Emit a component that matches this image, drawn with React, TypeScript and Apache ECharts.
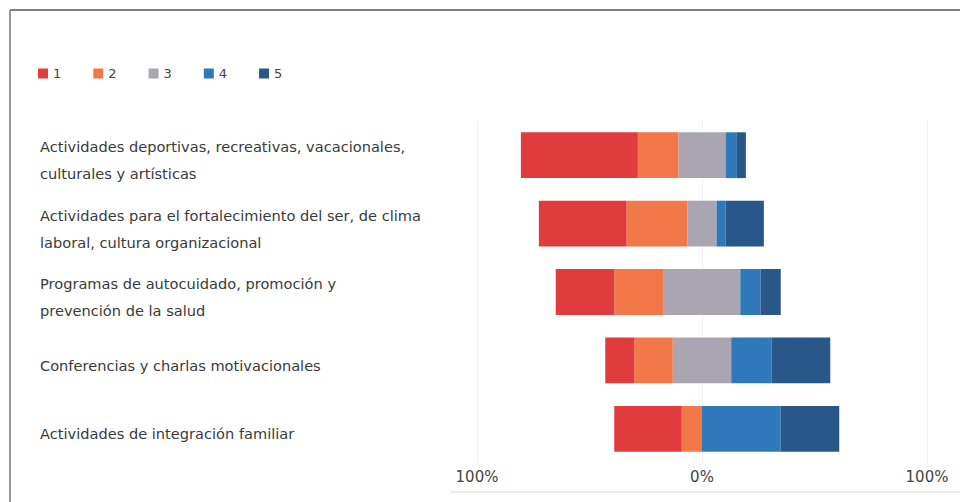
import React, { useEffect, useRef } from "react";
import * as echarts from "echarts";

const categories = [
  "Actividades deportivas, recreativas, vacacionales,\nculturales y artísticas",
  "Actividades para el fortalecimiento del ser, de clima\nlaboral, cultura organizacional",
  "Programas de autocuidado, promoción y\nprevención de la salud",
  "Conferencias y charlas motivacionales",
  "Actividades de integración familiar",
];
const legendNames = ["1", "2", "3", "4", "5"];
const p1 = [52, 39, 26, 13, 30];
const p2 = [18, 27, 22, 17, 9];
const p3 = [21, 13, 34, 26, 0];
const p4 = [5, 4, 9, 18, 35];
const p5 = [4, 17, 9, 26, 26];
const tickValues = [-100, 0, 100];

const colors = ["#e03c3e", "#f2784a", "#a9a6b2", "#2f78b9", "#2a5789"];
const FONT = "DejaVu Sans";

export default function App() {
  const ref = useRef<HTMLDivElement>(null);
  useEffect(() => {
    if (!ref.current) return;
    const chart = echarts.init(ref.current, null, { renderer: "svg" });
    const bar = (name: string, data: number[], color: string) => ({
      name,
      type: "bar",
      stack: "likert",
      data,
      barCategoryGap: "33%",
      itemStyle: { color },
      emphasis: { disabled: true },
    });
    chart.setOption({
      animation: false,
      backgroundColor: "#ffffff",
      textStyle: { fontFamily: FONT },
      legend: {
        data: legendNames,
        left: 33,
        top: 62,
        icon: "rect",
        itemWidth: 10,
        itemHeight: 10,
        itemGap: 32,
        textStyle: { color: "#444", fontSize: 13, fontFamily: FONT },
      },
      grid: [
        { left: 477, right: 33, top: 121, bottom: 39 },
        { left: 477, right: 33, top: 126, bottom: 34 },
      ],
      xAxis: [
        {
          type: "value",
          min: tickValues[0],
          max: tickValues[tickValues.length - 1],
          interval: 100,
          axisLine: { show: false },
          axisTick: { show: false },
          splitLine: { show: true, lineStyle: { color: "#f0f0f0", width: 1 } },
          axisLabel: {
            color: "#444",
            fontSize: 15,
            fontFamily: FONT,
            margin: 6,
            formatter: (v: number) => Math.abs(v) + "%",
          },
        },
        {
          type: "value",
          gridIndex: 1,
          min: -100,
          max: 100,
          interval: 100,
          show: false,
        },
      ],
      yAxis: [
        {
          type: "category",
          data: categories,
          inverse: true,
          axisLine: { show: false, onZero: false },
          axisTick: { show: false },
          axisLabel: { show: false },
        },
        {
          type: "category",
          gridIndex: 1,
          data: categories,
          inverse: true,
          axisLine: { show: false, onZero: false },
          axisTick: { show: false },
          splitLine: { show: false },
          axisLabel: {
            align: "left",
            margin: 437,
            color: "#3a3a3a",
            fontSize: 14.6,
            lineHeight: 27,
            fontFamily: FONT,
          },
        },
      ],
      series: [
        bar("3", p3.map((v) => -v / 2), colors[2]),
        bar("2", p2.map((v) => -v), colors[1]),
        bar("1", p1.map((v) => -v), colors[0]),
        bar("3", p3.map((v) => v / 2), colors[2]),
        bar("4", p4, colors[3]),
        bar("5", p5, colors[4]),
      ],
      graphic: [
        { type: "line", shape: { x1: 10, y1: 10, x2: 960, y2: 10 }, style: { stroke: "#555", lineWidth: 1.5 } },
        { type: "line", shape: { x1: 10, y1: 10, x2: 10, y2: 502 }, style: { stroke: "#777", lineWidth: 1.5 } },
        { type: "line", shape: { x1: 450, y1: 492, x2: 960, y2: 492 }, style: { stroke: "#d8d8d8", lineWidth: 1 } },
      ],
    });
    return () => chart.dispose();
  }, []);
  return (
    <div
      ref={ref}
      style={{ position: "fixed", left: 0, top: 0, width: 960, height: 502 }}
    />
  );
}
